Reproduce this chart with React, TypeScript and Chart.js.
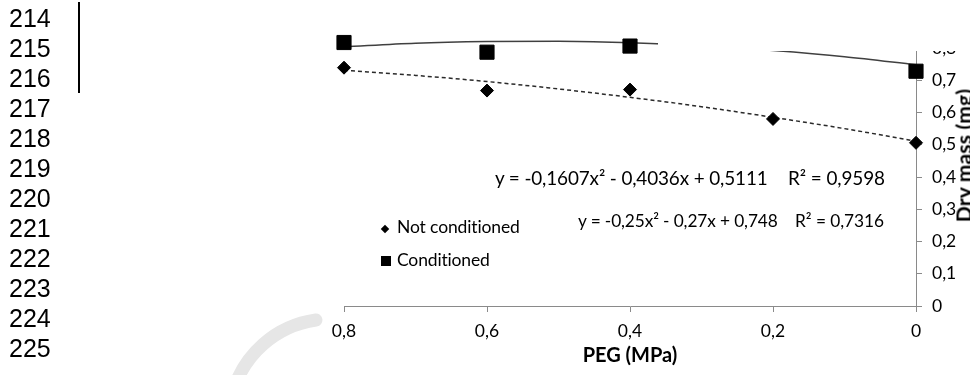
import React, { useEffect, useRef } from "react";
import { Chart, registerables } from "chart.js";

Chart.register(...registerables);

// ---- data ----
const lineNumbers = ["214", "215", "216", "217", "218", "219", "220", "221", "222", "223", "224", "225"];

const notConditionedPeg = [0.8, 0.6, 0.4, 0.2, 0];
const notConditionedMass = [0.739, 0.668, 0.671, 0.58, 0.506];

const conditionedPeg = [0.8, 0.6, 0.4, 0];
const conditionedMass = [0.817, 0.787, 0.806, 0.728];

const trendPeg = [0.8, 0.7, 0.6, 0.5, 0.4, 0.3, 0.2, 0.1, 0];
const notConditionedTrend = [0.731, 0.715, 0.696, 0.673, 0.647, 0.618, 0.585, 0.55, 0.511];
const conditionedTrend = [0.804, 0.815, 0.82, 0.821, 0.816, 0.807, 0.792, 0.773, 0.748];

const xTickValues = [0.8, 0.6, 0.4, 0.2, 0];
const xTickLabels = ["0,8", "0,6", "0,4", "0,2", "0"];
const yTickValues = [0, 0.1, 0.2, 0.3, 0.4, 0.5, 0.6, 0.7, 0.8];
const yTickLabels = ["0", "0,1", "0,2", "0,3", "0,4", "0,5", "0,6", "0,7", "0,8"];

const seriesNames = ["Not conditioned", "Conditioned"];
const equations = ["y = -0,1607x² - 0,4036x + 0,5111", "y = -0,25x² - 0,27x + 0,748"];
const rSquared = ["R² = 0,9598", "R² = 0,7316"];
const xTitle = "PEG (MPa)";
const yTitle = "Dry mass (mg)";

const FONT = "Lato, 'Open Sans', sans-serif";
const AXIS_GREY = "#8a8a8a";

const toPoints = (xs: number[], ys: number[]) => xs.map((x, i) => ({ x, y: ys[i] }));
const labelFor = (values: number[], labels: string[], v: number) => {
  const i = values.findIndex((t) => Math.abs(t - v) < 1e-6);
  return i >= 0 ? labels[i] : "";
};

let measureCtx: CanvasRenderingContext2D | null = null;
const measure = (text: string, size: number, bold = false) => {
  if (!measureCtx) measureCtx = document.createElement("canvas").getContext("2d");
  if (!measureCtx) return text.length * size * 0.5;
  measureCtx.font = `${bold ? "bold " : ""}${size}px Lato`;
  return measureCtx.measureText(text).width;
};

const decorPlugin = {
  id: "decor",
  beforeDraw(chart: any) {
    const ctx = chart.ctx;
    ctx.save();
    ctx.strokeStyle = "#e6e6e6";
    ctx.lineWidth = 13;
    ctx.lineCap = "round";
    ctx.beginPath();
    ctx.arc(330, 420, 101, (195 * Math.PI) / 180, (262 * Math.PI) / 180);
    ctx.stroke();
    ctx.restore();
  },
  afterDraw(chart: any) {
    const ctx = chart.ctx;
    ctx.save();
    ctx.fillStyle = "#ffffff";
    ctx.fillRect(658, 0, 312, 51);
    ctx.restore();
  },
};

function ChartCanvas() {
  const ref = useRef<HTMLCanvasElement | null>(null);
  useEffect(() => {
    if (!ref.current) return;
    const chart = new Chart(ref.current, {
      type: "scatter",
      data: {
        datasets: [
          {
            label: seriesNames[0],
            data: toPoints(notConditionedPeg, notConditionedMass),
            pointStyle: "rectRot",
            pointRadius: 6.5,
            pointBorderWidth: 1,
            backgroundColor: "#000",
            borderColor: "#000",
            showLine: false,
            clip: false,
          } as any,
          {
            label: seriesNames[1],
            data: toPoints(conditionedPeg, conditionedMass),
            pointStyle: "rect",
            pointRadius: 10,
            pointBorderWidth: 1,
            backgroundColor: "#000",
            borderColor: "#000",
            showLine: false,
            clip: false,
          } as any,
          {
            label: "trend1",
            data: toPoints(trendPeg, notConditionedTrend),
            showLine: true,
            pointRadius: 0,
            borderColor: "#2a2a2a",
            borderWidth: 1.5,
            borderDash: [4, 3],
            cubicInterpolationMode: "monotone",
            clip: false,
          } as any,
          {
            label: "trend2",
            data: toPoints(trendPeg, conditionedTrend),
            showLine: true,
            pointRadius: 0,
            borderColor: "#404040",
            borderWidth: 1.5,
            cubicInterpolationMode: "monotone",
            clip: false,
          } as any,
        ],
      },
      options: {
        animation: false,
        responsive: false,
        devicePixelRatio: 1,
        layout: { padding: { left: 344, top: 48, right: 0, bottom: 0 } },
        plugins: { legend: { display: false }, tooltip: { enabled: false }, title: { display: false } },
        scales: {
          x: {
            type: "linear",
            reverse: true,
            min: 0,
            max: 0.8,
            afterFit: (s: any) => {
              s.height = 69;
            },
            afterBuildTicks: (s: any) => {
              s.ticks = xTickValues.map((v) => ({ value: v }));
            },
            ticks: {
              color: "#000",
              font: { family: FONT, size: 17.5 },
              padding: 9,
              maxRotation: 0,
              callback: (v: any) => labelFor(xTickValues, xTickLabels, Number(v)),
            },
            grid: { drawOnChartArea: false, drawTicks: true, tickLength: 6, color: AXIS_GREY, lineWidth: 1 },
            border: { color: AXIS_GREY, width: 1 },
            title: {
              display: true,
              text: xTitle,
              color: "#000",
              font: { family: FONT, size: 20, weight: "bold" },
              padding: { top: 0, bottom: 7 },
            },
          },
          y: {
            type: "linear",
            position: "right",
            min: 0,
            max: 0.8,
            afterFit: (s: any) => {
              s.width = 54;
            },
            afterBuildTicks: (s: any) => {
              s.ticks = yTickValues.map((v) => ({ value: v }));
            },
            ticks: {
              color: "#000",
              font: { family: FONT, size: 17.5 },
              padding: 10,
              callback: (v: any) => labelFor(yTickValues, yTickLabels, Number(v)),
            },
            grid: { drawOnChartArea: false, drawTicks: true, tickLength: 6, color: AXIS_GREY, lineWidth: 1 },
            border: { color: AXIS_GREY, width: 1 },
          },
        },
      },
      plugins: [decorPlugin],
    } as any);
    return () => chart.destroy();
  }, []);
  return <canvas ref={ref} width={970} height={375} style={{ position: "absolute", left: 0, top: 0, width: 970, height: 375 }} />;
}

// text placed by its left edge and baseline, letter-spaced to span a given width
function FitText(props: { text: string; left: number; right: number; baseline: number; size: number; bold?: boolean }) {
  const { text, left, right, baseline, size, bold } = props;
  const w = measure(text, size, !!bold);
  const spacing = (right - left - w) / Math.max(1, text.length);
  return (
    <div
      style={{
        position: "absolute",
        left,
        top: baseline - 0.887 * size,
        fontFamily: FONT,
        fontWeight: bold ? "bold" : "normal",
        fontSize: size,
        lineHeight: `${size}px`,
        letterSpacing: `${spacing}px`,
        whiteSpace: "pre",
        color: "#000",
      }}
    >
      {text}
    </div>
  );
}

export default function App() {
  const ySize = 21;
  const yW = measure(yTitle, ySize, true);
  const ySpacing = (134 - yW) / yTitle.length;
  return (
    <div style={{ position: "fixed", left: 0, top: 0, width: 970, height: 375, overflow: "hidden", background: "#fff" }}>
      <ChartCanvas />
      {/* line numbers */}
      <div
        style={{
          position: "absolute",
          left: 9,
          top: 3,
          fontFamily: "'Liberation Sans', Arial, sans-serif",
          fontSize: 25,
          lineHeight: "30px",
          color: "#000",
        }}
      >
        {lineNumbers.map((n) => (
          <div key={n}>{n}</div>
        ))}
      </div>
      <div style={{ position: "absolute", left: 78, top: 2, width: 2, height: 91, background: "#000" }} />
      {/* legend */}
      <div style={{ position: "absolute", left: 381.5, top: 226, width: 6, height: 6, background: "#000", transform: "rotate(45deg)" }} />
      <FitText text={seriesNames[0]} left={397} right={520} baseline={234} size={17.5} />
      <div style={{ position: "absolute", left: 381, top: 256, width: 10, height: 10, background: "#000" }} />
      <FitText text={seriesNames[1]} left={397} right={490} baseline={267} size={17.5} />
      {/* trendline equations */}
      <FitText text={equations[0]} left={495} right={768} baseline={185.5} size={18.9} />
      <FitText text={rSquared[0]} left={788} right={885} baseline={185.5} size={18.9} />
      <FitText text={equations[1]} left={578} right={778} baseline={227.5} size={17.3} />
      <FitText text={rSquared[1]} left={795} right={884} baseline={227.5} size={17.3} />
      {/* y axis title, rotated */}
      <div
        style={{
          position: "absolute",
          left: 963 - 80,
          top: 155 - 12.5,
          width: 160,
          height: 25,
          textAlign: "center",
          fontFamily: FONT,
          fontWeight: "bold",
          fontSize: ySize,
          lineHeight: "25px",
          letterSpacing: `${ySpacing}px`,
          whiteSpace: "pre",
          transform: "rotate(-90deg)",
          transformOrigin: "50% 50%",
          color: "#000",
        }}
      >
        {yTitle}
      </div>
    </div>
  );
}
